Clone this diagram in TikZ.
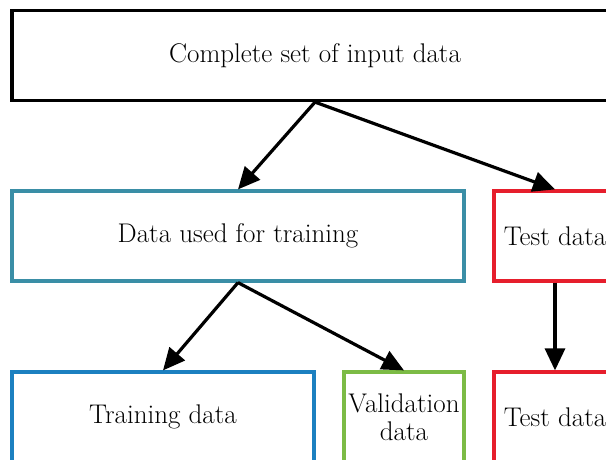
\documentclass[tikz,border=0pt]{standalone}
\usepackage{tikz}
\usetikzlibrary{arrows.meta}
\definecolor{tealb}{HTML}{3A8EA6}
\definecolor{blueb}{HTML}{1C80C0}
\definecolor{greenb}{HTML}{7CBB45}
\definecolor{redb}{HTML}{E61E2C}
\tikzstyle{caja}=[draw,line width=3.2pt,inner sep=0pt,minimum height=90pt,align=center,font=\fontsize{27}{28}\selectfont]
\tikzstyle{flecha}=[line width=3.2pt,-{Triangle[length=22pt,width=20pt]}]

\begin{document}
\begin{tikzpicture}[x=1pt,y=-1pt]
    \clip (0,0) rectangle (606,459);
    \useasboundingbox (0,0) rectangle (606,459);
    \node [caja,minimum width=606pt] (todo) at (315, 55.5) {Complete set of input data};
    \node [caja,draw=tealb,minimum width=452pt] (entreno) at (238, 236) {Data used for training};
    \node [caja,draw=redb,minimum width=122pt] (prueba) at (555, 236) {Test data};
    \node [caja,draw=blueb,minimum width=302pt] (training) at (163, 417) {Training data};
    \node [caja,draw=greenb,minimum width=120pt] (valida) at (404, 417) {Validation\\data};
    \node [caja,draw=redb,minimum width=122pt] (pruebab) at (555, 417) {Test data};
    \draw [flecha] (todo.south) -- (entreno.north);
    \draw [flecha] (todo.south) -- (prueba.north);
    \draw [flecha] (entreno.south) -- (training.north);
    \draw [flecha] (entreno.south) -- (valida.north);
    \draw [flecha] (prueba.south) -- (pruebab.north);
\end{tikzpicture}
\end{document}
